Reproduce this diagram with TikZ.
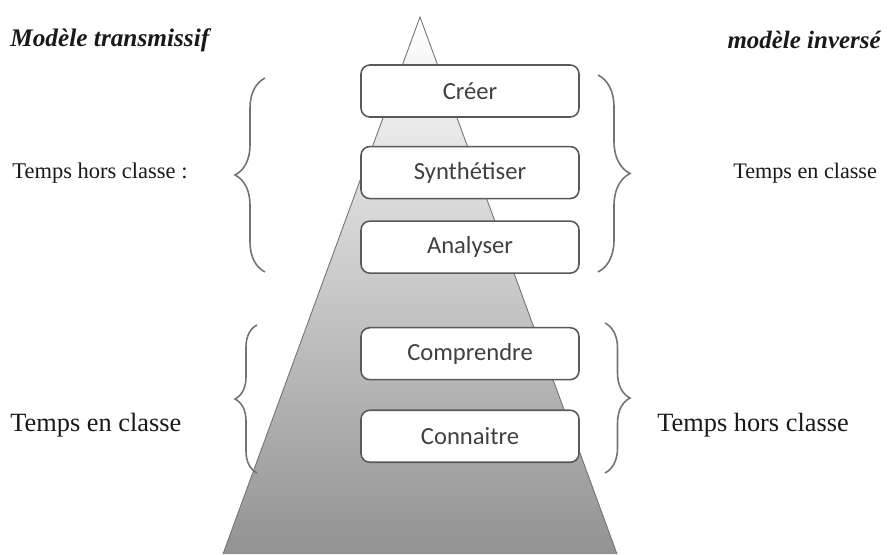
\documentclass[tikz,border=0pt]{standalone}
\usepackage{fontspec}
\setmainfont{Liberation Serif}
\newfontfamily\boxfont{Carlito}
\usetikzlibrary{positioning, decorations.pathreplacing}
\tikzstyle{level} = [draw=black!65, line width=0.9pt, rounded corners=5pt, fill=white, minimum width=4.36cm, minimum height=1.04cm, text=black!75, font=\boxfont\fontsize{14}{16}\selectfont]
\tikzstyle{curly} = [draw=black!55, line width=0.9pt, decorate]
\tikzstyle{label} = [text=black!90, inner sep=0pt]

\begin{document}
\begin{tikzpicture}[x=0.02cm, y=-0.02cm]
        \useasboundingbox (0,0) rectangle (888,554);
        \coordinate (apex) at (420,17);
        \coordinate (baseL) at (223,554);
        \coordinate (baseR) at (617,554);
        \shade[top color=white, bottom color=gray!85] (apex) -- (baseL) -- (baseR) -- cycle;
        \draw[black!55, line width=0.5pt] (baseL) -- (apex) -- (baseR);
        \node[level] (creer) at (470,91) {Créer};
        \node[level, below=0.56cm of creer] (synth) {Synthétiser};
        \node[level, below=0.42cm of synth] (analyser) {Analyser};
        \node[level, below=1.06cm of analyser] (comprendre) {Comprendre};
        \node[level, below=0.58cm of comprendre] (connaitre) {Connaitre};
        \node[label, anchor=west, font=\bfseries\itshape\fontsize{14.4}{16}\selectfont] (transmissif) at (10,40) {Modèle transmissif};
        \node[label, anchor=east, font=\bfseries\itshape\fontsize{14.2}{16}\selectfont] (inverse) at (881,40) {modèle inversé};
        \coordinate (lhaut) at (265,78);
        \coordinate (lbas) at (265,272);
        \coordinate (rhaut) at (598,75);
        \coordinate (rbas) at (598,272);
        \coordinate (lhaut2) at (257,325);
        \coordinate (lbas2) at (257,473);
        \coordinate (rhaut2) at (605,323);
        \coordinate (rbas2) at (605,473);
        \draw[curly, decoration={brace, amplitude=0.6cm}] (lbas) -- (lhaut);
        \draw[curly, decoration={brace, amplitude=0.64cm}] (rhaut) -- (rbas);
        \draw[curly, decoration={brace, amplitude=0.44cm}] (lbas2) -- (lhaut2);
        \draw[curly, decoration={brace, amplitude=0.5cm}] (rhaut2) -- (rbas2);
        \node[label, anchor=west, font=\fontsize{12.8}{14}\selectfont] (horsg) at (12,173) {Temps hors classe :};
        \node[label, anchor=west, font=\fontsize{12.6}{14}\selectfont] (end) at (733,173) {Temps en classe};
        \node[label, anchor=west, font=\fontsize{15}{17}\selectfont] (eng) at (10,425) {Temps en classe};
        \node[label, anchor=west, font=\fontsize{15}{17}\selectfont] (horsd) at (657,425) {Temps hors classe};
\end{tikzpicture}
\end{document}
